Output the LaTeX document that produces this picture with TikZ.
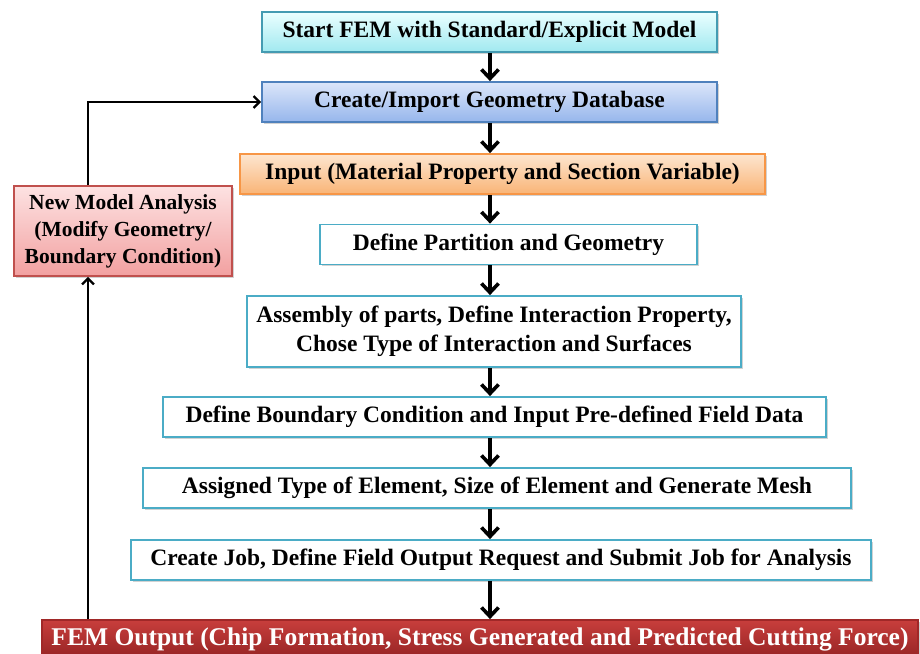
\documentclass[tikz,border=0pt]{standalone}
\usepackage{fontspec}
\setmainfont{Liberation Serif}
\usetikzlibrary{arrows.meta,shadows}
\definecolor{tealline}{HTML}{4BACC6}
\tikzset{
  box/.style={draw=tealline, line width=1.8pt, fill=white, minimum height=40pt,
    align=center, font=\bfseries\fontsize{23.5}{29}\selectfont, inner sep=2pt,
    drop shadow={shadow xshift=1.5pt, shadow yshift=-1.5pt, fill=black!35, opacity=.5}},
  flow/.style={line width=3.6pt, -{Straight Barb[length=9pt,width=17pt,line width=3.6pt]}},
  loop/.style={line width=2.2pt, -{Straight Barb[length=6pt,width=12pt,line width=2.2pt]}},
}
\begin{document}
\begin{tikzpicture}[x=1pt,y=-1pt]
\useasboundingbox (0,0) rectangle (920,653);
% main chain
\node[box, minimum width=455pt, draw=tealline!90!black, top color=cyan!8, bottom color=cyan!40!tealline!45]
  (start) at (489.5,32) {Start FEM with Standard/Explicit Model};
\node[box, minimum width=455pt, draw={rgb,255:red,79;green,129;blue,189}, top color={rgb,255:red,220;green,230;blue,250}, bottom color={rgb,255:red,150;green,182;blue,236}]
  (geom) at (489.5,102) {Create/Import Geometry Database};
\node[box, minimum width=525pt, draw={rgb,255:red,247;green,150;blue,70}, top color={rgb,255:red,253;green,230;blue,208}, bottom color={rgb,255:red,249;green,180;blue,118}]
  (input) at (502.5,174) {Input (Material Property and Section Variable)};
\node[box, minimum width=377pt] (part) at (508.5,244.5) {Define Partition and Geometry};
\node[box, minimum width=494pt, minimum height=71pt] (asm) at (494,331.5)
  {Assembly of parts, Define Interaction Property,\\ Chose Type of Interaction and Surfaces};
\node[box, minimum width=663pt] (bc) at (494.5,417) {Define Boundary Condition and Input Pre-defined Field Data};
\node[box, minimum width=708pt] (mesh) at (497,488) {Assigned Type of Element, Size of Element and Generate Mesh};
\node[box, minimum width=740pt] (job) at (501,560) {Create Job, Define Field Output Request and Submit Job for Analysis};
\node[box, minimum width=876pt, minimum height=38pt, draw={rgb,255:red,160;green,40;blue,40},
  top color={rgb,255:red,200;green,62;blue,60}, bottom color={rgb,255:red,150;green,36;blue,36},
  text=white, font=\bfseries\fontsize{25.5}{29}\selectfont]
  (out) at (480,639) {FEM Output (Chip Formation, Stress Generated and Predicted Cutting Force)};
% feedback box
\node[box, minimum width=218pt, minimum height=90pt, draw={rgb,255:red,192;green,80;blue,77},
  top color={rgb,255:red,253;green,226;blue,226}, bottom color={rgb,255:red,242;green,160;blue,160},
  font=\bfseries\fontsize{21.5}{27}\selectfont]
  (new) at (123,231) {New Model Analysis\\ (Modify Geometry/\\ Boundary Condition)};
% downward arrows
\foreach \a/\b in {start/geom, geom/input, input/part, part/asm, asm/bc, bc/mesh, mesh/job, job/out}
  \draw[flow] (\a.south -| 490,0) -- (\b.north -| 490,0);
% feedback loop
\coordinate (loopx) at (88,0);
\draw[loop] (out.north -| loopx) -- (new.south -| loopx);
\draw[loop] (new.north -| loopx) |- (geom.west);
\end{tikzpicture}
\end{document}
